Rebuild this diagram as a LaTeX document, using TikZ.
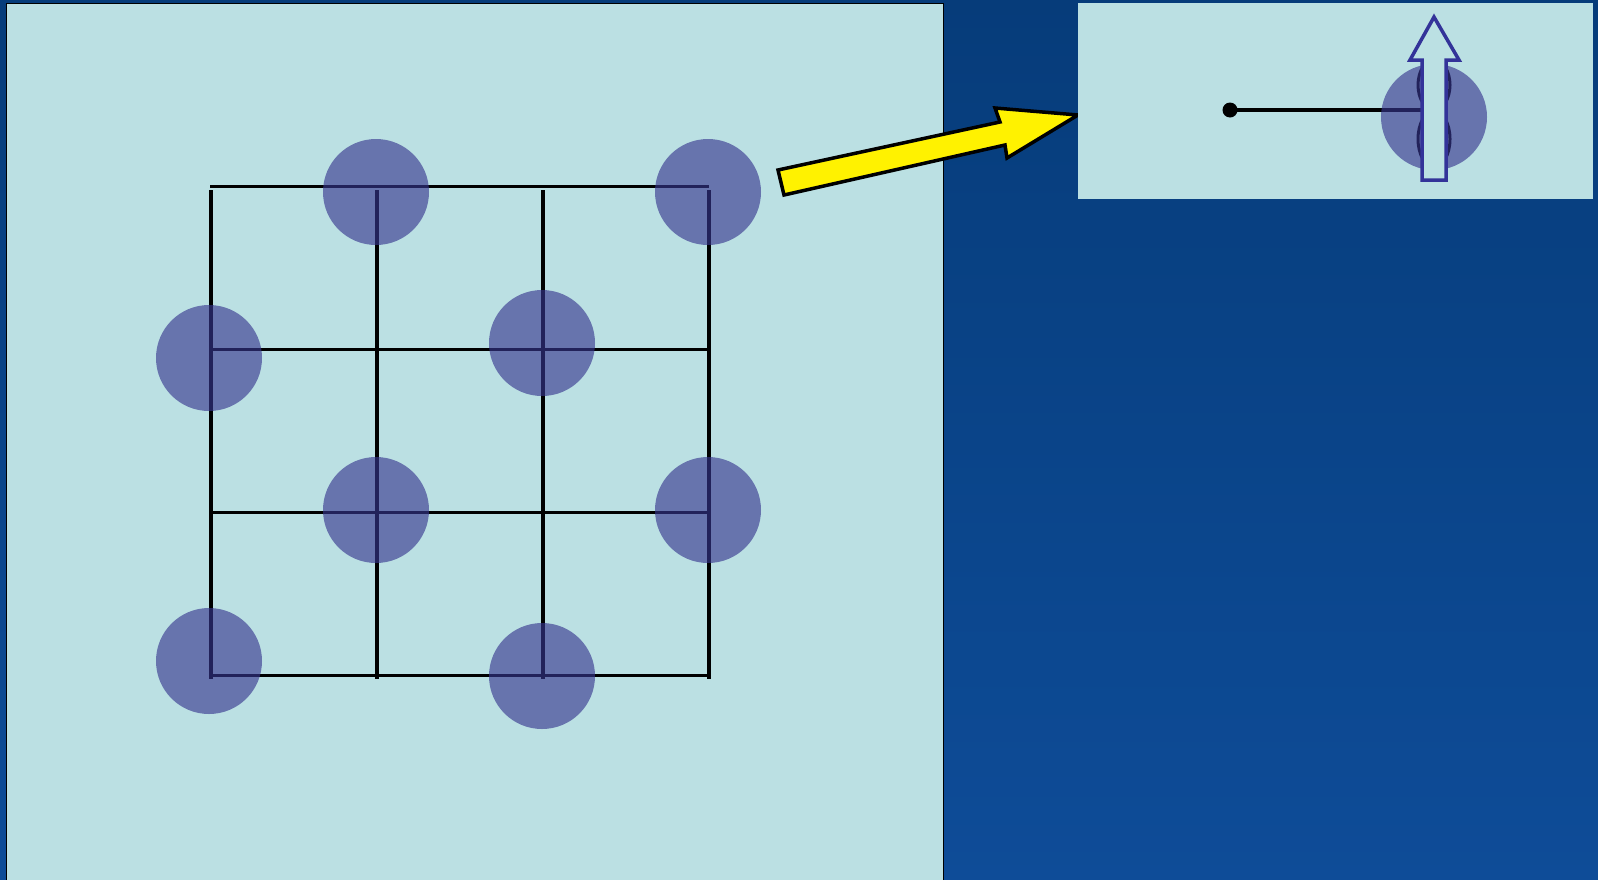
\documentclass[tikz,border=0pt]{standalone}
\definecolor{slidetop}{RGB}{6,60,122}
\definecolor{slidebot}{RGB}{14,76,152}
\definecolor{panelcyan}{RGB}{187,224,227}
\definecolor{atomblue}{RGB}{54,54,143}
\definecolor{spinblue}{RGB}{51,51,153}
\tikzset{atom/.style={fill=atomblue, fill opacity=0.63}}
\begin{document}
\begin{tikzpicture}[x=1pt, y=-1pt]
      \def\rat{53}
      \def\lw{3.5}
      \useasboundingbox (0,0) rectangle (1598,879);
      \shade[top color=slidetop, bottom color=slidebot] (0,0) rectangle (1598,879);
      \filldraw[draw=black, fill=panelcyan, line width=1] (6,3) rectangle (943,882);
      % lattice
      \draw[line width=\lw] (210,186.5) -- (709,186.5);
      \draw[line width=\lw] (211,349.5) -- (709,349.5);
      \draw[line width=\lw] (211,512.5) -- (709,512.5);
      \draw[line width=\lw] (211,675.5) -- (709,675.5);
      \draw[line width=\lw] (211,190) -- (211,679);
      \draw[line width=\lw] (377,190) -- (377,679);
      \draw[line width=\lw] (543,190) -- (543,679);
      \draw[line width=\lw] (709,190) -- (709,679);
      \coordinate (A1) at (376,192);
      \coordinate (A2) at (708,192);
      \coordinate (A3) at (209,358);
      \coordinate (A4) at (542,343);
      \coordinate (A5) at (376,510);
      \coordinate (A6) at (708,510);
      \coordinate (A7) at (209,661);
      \coordinate (A8) at (542,676);
      \fill[atom] (A1) circle (\rat);
      \fill[atom] (A2) circle (\rat);
      \fill[atom] (A3) circle (\rat);
      \fill[atom] (A4) circle (\rat);
      \fill[atom] (A5) circle (\rat);
      \fill[atom] (A6) circle (\rat);
      \fill[atom] (A7) circle (\rat);
      \fill[atom] (A8) circle (\rat);
      % zoom arrow
      \filldraw[draw=black, fill=yellow, line width=\lw, line join=miter]
        (778,170) -- (1000,122) -- (995,108) -- (1078,115) -- (1007,158) -- (1005,145) -- (784,195) -- cycle;
      % inset
      \fill[panelcyan] (1078,3) rectangle (1593,199);
      \coordinate (P) at (1230,110);
      \coordinate (Q) at (1421,110);
      \coordinate (S) at (1434,117);
      \draw[line width=\lw] (P) -- (Q);
      \fill[black] (P) circle (7.5);
      \draw[line width=3] (1434,85) ellipse (16 and 25);
      \draw[line width=3] (1434,139) ellipse (16 and 28);
      \fill[atom] (S) circle (\rat);
      \filldraw[draw=spinblue, fill=panelcyan, line width=\lw]
        (1422,180) -- (1446,180) -- (1446,60) -- (1459,60) -- (1434,17) -- (1410,60) -- (1422,60) -- cycle;
    \end{tikzpicture}
\end{document}
